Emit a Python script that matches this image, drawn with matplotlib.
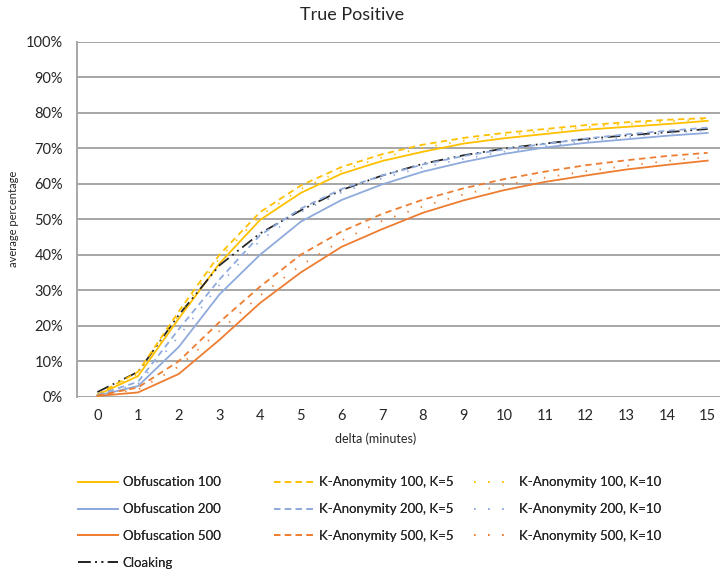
import matplotlib.pyplot as plt
from matplotlib.ticker import PercentFormatter

plt.rcParams["font.family"] = ["Lato", "DejaVu Sans"]

# delta in minutes
delta = list(range(16))

obf_100 = [0.5, 5.8, 22.0, 37.5, 49.8, 57.4, 62.8, 66.4, 69.0, 71.3, 72.8, 74.0, 75.2, 76.0, 76.8, 77.7]
obf_200 = [0.3, 3.0, 14.0, 28.8, 40.0, 49.3, 55.4, 59.8, 63.4, 66.1, 68.4, 70.2, 71.5, 72.5, 73.5, 74.3]
obf_500 = [0.2, 1.2, 6.4, 16.0, 26.4, 35.0, 42.2, 47.2, 51.8, 55.3, 58.2, 60.5, 62.3, 64.0, 65.3, 66.5]

ka_100_k5 = [0.6, 7.0, 24.0, 40.0, 52.0, 59.5, 64.7, 68.3, 71.0, 72.9, 74.3, 75.4, 76.5, 77.3, 78.0, 78.5]
ka_200_k5 = [0.5, 4.2, 19.0, 33.0, 45.5, 53.0, 58.5, 62.3, 65.4, 67.8, 69.7, 71.2, 72.7, 73.9, 74.9, 75.8]
ka_500_k5 = [0.3, 2.6, 10.0, 21.0, 31.0, 40.0, 46.5, 51.5, 55.5, 58.7, 61.3, 63.4, 65.2, 66.6, 67.8, 68.7]

ka_100_k10 = [0.5, 6.5, 23.0, 39.0, 51.0, 58.5, 63.7, 67.4, 70.1, 72.1, 73.6, 74.8, 75.9, 76.8, 77.5, 78.2]
ka_200_k10 = [0.5, 3.6, 17.0, 31.5, 44.0, 52.0, 57.5, 61.5, 64.6, 67.0, 69.0, 70.6, 72.0, 73.1, 74.2, 75.1]
ka_500_k10 = [0.3, 2.0, 8.5, 18.5, 28.5, 37.0, 44.0, 49.5, 53.6, 57.0, 59.6, 61.7, 63.5, 65.0, 66.4, 67.5]

cloaking = [1.3, 7.0, 23.0, 37.0, 46.0, 52.5, 58.2, 62.3, 65.6, 68.0, 69.9, 71.3, 72.6, 73.6, 74.5, 75.4]

YELLOW = "#FFC000"
BLUE = "#8FAADC"
ORANGE = "#ED7D31"
DARK = "#262626"
W, H = 720, 579

fig = plt.figure(figsize=(7.2, 5.79), dpi=100)
ax = fig.add_axes([77 / W, 1 - 396.7 / H, (728 - 77) / W, (396.7 - 41.7) / H])

lw = 1.3
dash = (0, (3.5, 2.5))
dot = (0, (0.8, 7))
ldd = (0, (7, 2.5, 1, 2.5, 1, 2.5))

l_o100, = ax.plot(delta, obf_100, color=YELLOW, lw=lw, label="Obfuscation 100")
l_o200, = ax.plot(delta, obf_200, color=BLUE, lw=lw, label="Obfuscation 200")
l_o500, = ax.plot(delta, obf_500, color=ORANGE, lw=lw, label="Obfuscation 500")
l_cl, = ax.plot(delta, cloaking, color=DARK, lw=lw, linestyle=ldd, label="Cloaking")
l_k5a, = ax.plot(delta, ka_100_k5, color=YELLOW, lw=lw, linestyle=dash, label="K-Anonymity 100, K=5")
l_k5b, = ax.plot(delta, ka_200_k5, color=BLUE, lw=lw, linestyle=dash, label="K-Anonymity 200, K=5")
l_k5c, = ax.plot(delta, ka_500_k5, color=ORANGE, lw=lw, linestyle=dash, label="K-Anonymity 500, K=5")
l_k10a, = ax.plot(delta, ka_100_k10, color=YELLOW, lw=lw, linestyle=dot, label="K-Anonymity 100, K=10")
l_k10b, = ax.plot(delta, ka_200_k10, color=BLUE, lw=lw, linestyle=dot, label="K-Anonymity 200, K=10")
l_k10c, = ax.plot(delta, ka_500_k10, color=ORANGE, lw=lw, linestyle=dot, label="K-Anonymity 500, K=10")

ax.set_xlim(-0.5, 15.5)
ax.set_ylim(0, 100)
ax.set_yticks(range(0, 101, 10))
ax.set_xticks(delta)
ax.yaxis.set_major_formatter(PercentFormatter(decimals=0))
ax.grid(axis="y", color="#A6A6A6", lw=1.4)
ax.set_axisbelow(True)
ax.tick_params(length=0, labelsize=10.5, colors="#262626")
ax.tick_params(axis="y", pad=10)
ax.tick_params(axis="x", pad=9)
for side in ["top", "right", "bottom"]:
    ax.spines[side].set_visible(False)
ax.spines["left"].set_color("#A6A6A6")
ax.spines["left"].set_linewidth(1.4)

fig.text(352 / W, 1 - 15 / H, "True Positive", fontsize=13, color="#262626", ha="center", va="center")
fig.text(376 / W, 1 - 439 / H, "delta (minutes)", fontsize=9, color="#262626", ha="center", va="center")
ax.set_ylabel("average percentage", fontsize=8, color="#262626", labelpad=5)

# three separate legend columns
cols = [
    (78, [l_o100, l_o200, l_o500, l_cl]),
    (274, [l_k5a, l_k5b, l_k5c]),
    (474, [l_k10a, l_k10b, l_k10c]),
]
for x0, hs in cols:
    leg = fig.legend(hs, [h.get_label() for h in hs], loc="upper left",
                     bbox_to_anchor=(x0 / W, 1 - 476.5 / H), frameon=False, fontsize=9.5,
                     handlelength=3.0, handletextpad=0.38, labelspacing=1.12,
                     borderpad=0, borderaxespad=0, labelcolor="#262626")
    fig.add_artist(leg)

fig.savefig("out.png", dpi=100)
